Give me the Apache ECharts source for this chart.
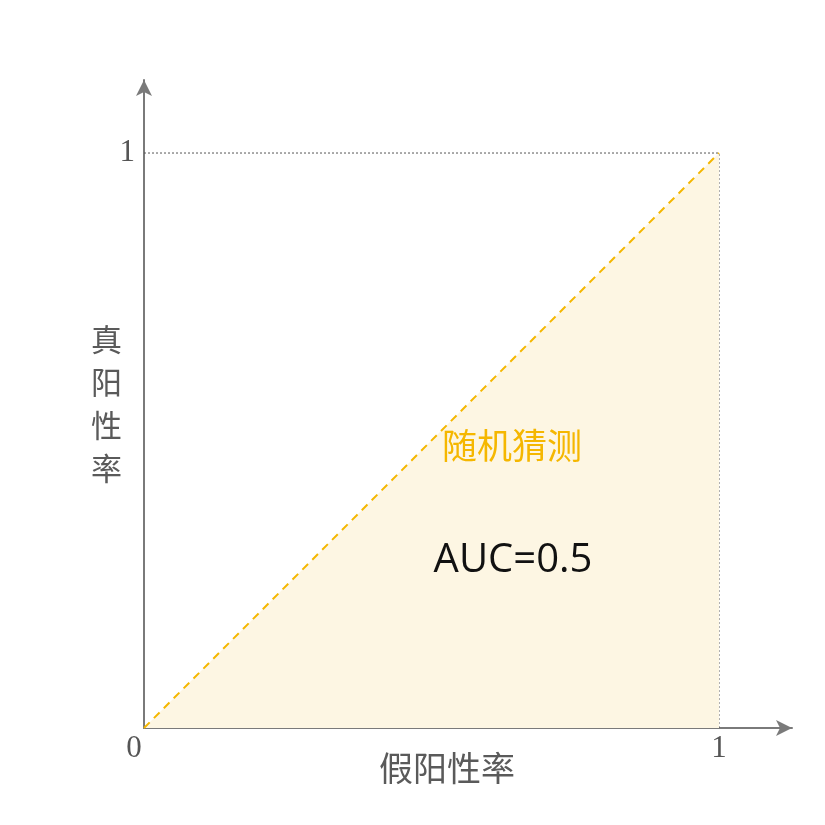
<!DOCTYPE html>
<html><head><meta charset="utf-8">
<script src="https://cdn.jsdelivr.net/npm/echarts@6/dist/echarts.min.js"></script>
<style>html,body{margin:0;padding:0;background:#fff}#c{width:825px;height:825px}</style>
</head><body><div id="c"></div>
<script>
const diagonalX = [0, 1];
const diagonalY = [0, 1];
const boundX = [0, 1, 1];
const boundY = [1, 1, 0];
const tickValues = [0, 1];
const xName = '假阳性率';
const yName = '真阳性率';
const curveLabel = '随机猜测';
const aucLabel = 'AUC=0.5';

const chart = echarts.init(document.getElementById('c'));
const axisColor = '#7a7a7a';
const serif = '"Liberation Serif", "DejaVu Serif", serif';
const cjk = '"Noto Sans CJK SC", sans-serif';
chart.setOption({
  animation: false,
  grid: { left: 144, right: 33, top: 80, bottom: 97 },
  xAxis: {
    type: 'value', min: 0, max: 1.127, interval: 1,
    splitLine: { show: false }, axisTick: { show: false },
    axisLine: { lineStyle: { color: axisColor, width: 2 }, symbol: ['none', 'arrow'], symbolSize: [12, 16] },
    axisLabel: {
      margin: 5, color: '#555', fontFamily: serif, fontSize: 31, showMaxLabel: false,
      formatter: v => v === 0 ? '{z|0}' : (v === 1 ? '1' : ''),
      rich: { z: { fontFamily: serif, fontSize: 31, color: '#555', padding: [0, 20, 0, 0] } }
    },
    name: xName, nameLocation: 'middle', nameGap: 23, nameMoveOverlap: false,
    nameTextStyle: { fontFamily: cjk, fontSize: 34, color: '#5a5a5a', padding: [0, 42, 0, 0] }
  },
  yAxis: {
    type: 'value', min: 0, max: 1.127, interval: 1,
    splitLine: { show: false }, axisTick: { show: false },
    axisLine: { lineStyle: { color: axisColor, width: 2 }, symbol: ['none', 'arrow'], symbolSize: [12, 16] },
    axisLabel: {
      margin: 9, color: '#555', fontFamily: serif, fontSize: 31, showMaxLabel: false,
      formatter: v => v === 1 ? '1' : ''
    },
    name: yName.split('').join('\n'), nameLocation: 'middle', nameGap: 22, nameRotate: 0, nameMoveOverlap: false,
    nameTextStyle: { fontFamily: cjk, fontSize: 31, lineHeight: 43, color: '#5a5a5a', padding: [12, 0, 0, 0] }
  },
  series: [
    {
      type: 'line', data: diagonalX.map((x, i) => [x, diagonalY[i]]),
      symbol: 'none', z: 3,
      lineStyle: { color: '#F5B700', width: 2, type: [8, 6] },
      areaStyle: { color: '#FDF6E3', opacity: 1 }
    },
    {
      type: 'line', data: boundX.map((x, i) => [x, boundY[i]]),
      symbol: 'none', z: 2,
      lineStyle: { color: '#555', width: 1, type: [2, 2] }
    }
  ],
  graphic: [
    { type: 'text', x: 512, y: 446, z: 10, style: { text: curveLabel, fontFamily: cjk, fontSize: 35, fill: '#F5B700', align: 'center', verticalAlign: 'middle' } },
    { type: 'text', x: 513, y: 561, z: 10, style: { text: aucLabel, fontFamily: '"Open Sans", sans-serif', fontSize: 40, fill: '#111', align: 'center', verticalAlign: 'middle' } }
  ]
});
</script></body></html>
